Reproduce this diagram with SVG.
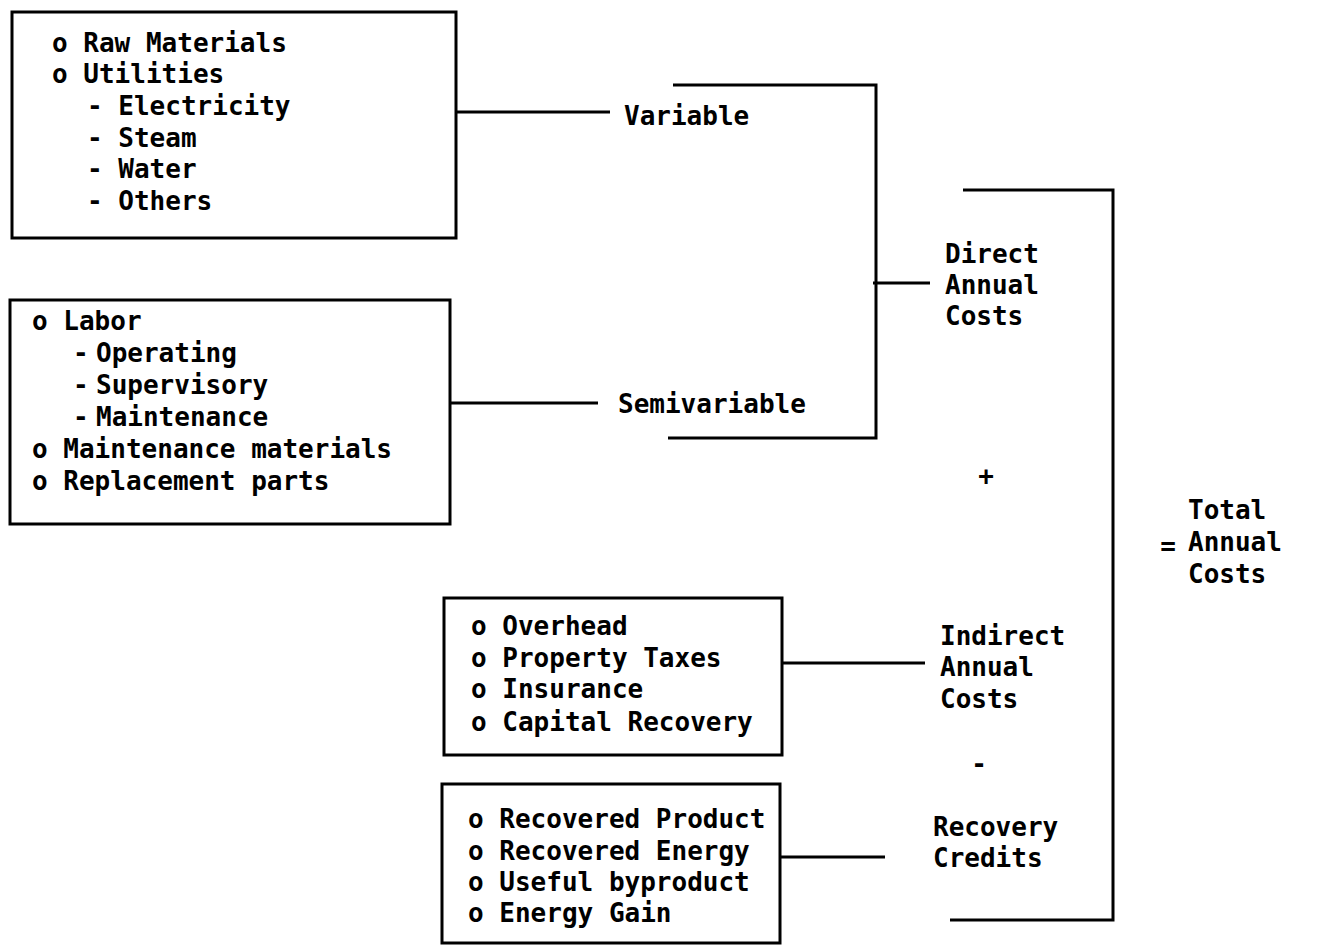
<svg xmlns="http://www.w3.org/2000/svg" width="1323" height="949" viewBox="0 0 1323 949">
<style>
text{font-family:"DejaVu Sans Mono","Liberation Mono",monospace;font-weight:bold;font-size:26px;fill:#000}
.box{fill:#fff;stroke:#000;stroke-width:3}
.ln{fill:none;stroke:#000;stroke-width:3}
.mid{text-anchor:middle}
</style>
<rect width="1323" height="949" fill="#fff"/>
<g id="variable-items">
<rect class="box" x="12" y="12" width="444" height="226"/>
<text x="52" y="52">o Raw Materials</text>
<text x="52" y="83">o Utilities</text>
<text x="87" y="115">- Electricity</text>
<text x="87" y="147">- Steam</text>
<text x="87" y="178">- Water</text>
<text x="87" y="210">- Others</text>
</g>
<g id="semivariable-items">
<rect class="box" x="10" y="300" width="440" height="224"/>
<text x="32" y="330">o Labor</text>
<text y="362"><tspan x="73">-</tspan><tspan x="96">Operating</tspan></text>
<text y="394"><tspan x="73">-</tspan><tspan x="96">Supervisory</tspan></text>
<text y="426"><tspan x="73">-</tspan><tspan x="96">Maintenance</tspan></text>
<text x="32" y="458">o Maintenance materials</text>
<text x="32" y="490">o Replacement parts</text>
</g>
<g id="indirect-items">
<rect class="box" x="444" y="598" width="338" height="157"/>
<text x="471" y="635">o Overhead</text>
<text x="471" y="667">o Property Taxes</text>
<text x="471" y="698">o Insurance</text>
<text x="471" y="731">o Capital Recovery</text>
</g>
<g id="recovery-items">
<rect class="box" x="442" y="784" width="338" height="159"/>
<text x="468" y="828">o Recovered Product</text>
<text x="468" y="860">o Recovered Energy</text>
<text x="468" y="891">o Useful byproduct</text>
<text x="468" y="922">o Energy Gain</text>
</g>
<g id="variable"><text x="624" y="125">Variable</text></g>
<g id="semivariable"><text x="618" y="413">Semivariable</text></g>
<g id="direct"><text x="945" y="263">Direct</text><text x="945" y="294">Annual</text><text x="945" y="325">Costs</text></g>
<g id="indirect"><text x="940" y="645">Indirect</text><text x="940" y="676">Annual</text><text x="940" y="708">Costs</text></g>
<g id="recovery"><text x="933" y="836">Recovery</text><text x="933" y="867">Credits</text></g>
<g id="total"><text x="1188" y="519">Total</text><text x="1188" y="551">Annual</text><text x="1188" y="583">Costs</text></g>
<g id="operators">
<text class="mid" x="986" y="485">+</text>
<text class="mid" x="979" y="773">-</text>
<text class="mid" x="1168" y="555">=</text>
</g>
<g id="connectors">
<path class="ln" d="M456 112H610"/>
<path class="ln" d="M450 403H598"/>
<path class="ln" d="M673 85H876V438H668"/>
<path class="ln" d="M873 283H930"/>
<path class="ln" d="M963 190H1113V920H950"/>
<path class="ln" d="M782 663H925"/>
<path class="ln" d="M780 857H885"/>
</g>
</svg>
